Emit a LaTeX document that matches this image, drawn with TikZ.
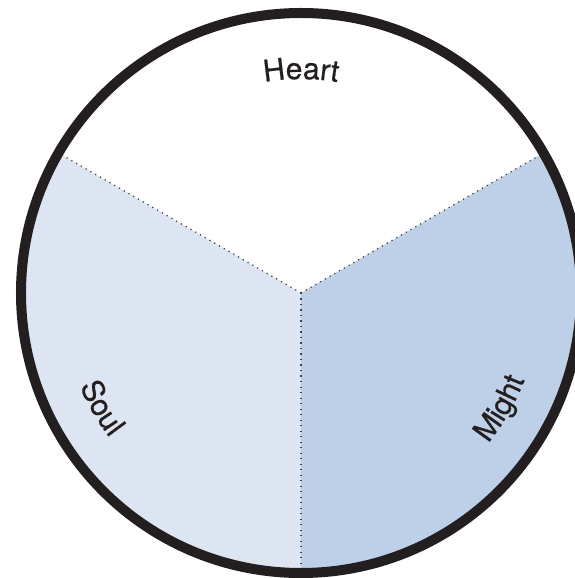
\documentclass[tikz,border=0pt]{standalone}
\usepackage{fontspec}
\setmainfont{TeX Gyre Heros}[FakeBold=0.6]
\usetikzlibrary{decorations.text}
\definecolor{soulfill}{HTML}{DCE5F1}
\definecolor{mightfill}{HTML}{BED0E8}
\definecolor{rim}{HTML}{231F20}
\newcommand\lblfont{\fontsize{30}{35}\selectfont\color{rim}}
\tikzset{
  divider/.style={draw=rim!85, line width=1.3pt, dash pattern=on 1.2pt off 4.3pt},
  rimline/.style={draw=rim, line width=10pt},
  arclabel/.style={decorate, decoration={text along path, text align=center, text={#1}}}
}
\begin{document}
\begin{tikzpicture}[x=1pt,y=1pt]
\useasboundingbox (-301,-285) rectangle (274,293);
\coordinate (c) at (0,0);
\coordinate (ul) at (150:280);
\coordinate (ur) at (30:280);
\coordinate (bt) at (270:280);
% sectors
\fill[soulfill] (c) -- (ul) arc[start angle=150, end angle=270, radius=280] -- cycle;
\fill[mightfill] (c) -- (bt) arc[start angle=270, end angle=390, radius=280] -- cycle;
% dividers
\draw[divider] (c) -- (ul);
\draw[divider] (c) -- (ur);
\draw[divider] (c) -- (bt);
% rim
\draw[rimline] (c) circle[radius=280];
% labels
\path[arclabel={|\lblfont|Heart}] (125:214) arc[start angle=125, end angle=55, radius=214];
\path[arclabel={|\lblfont|Soul}] (180:240) arc[start angle=180, end angle=240, radius=240];
\path[arclabel={|\lblfont|Might}] (300:240) arc[start angle=300, end angle=360, radius=240];
\end{tikzpicture}
\end{document}
